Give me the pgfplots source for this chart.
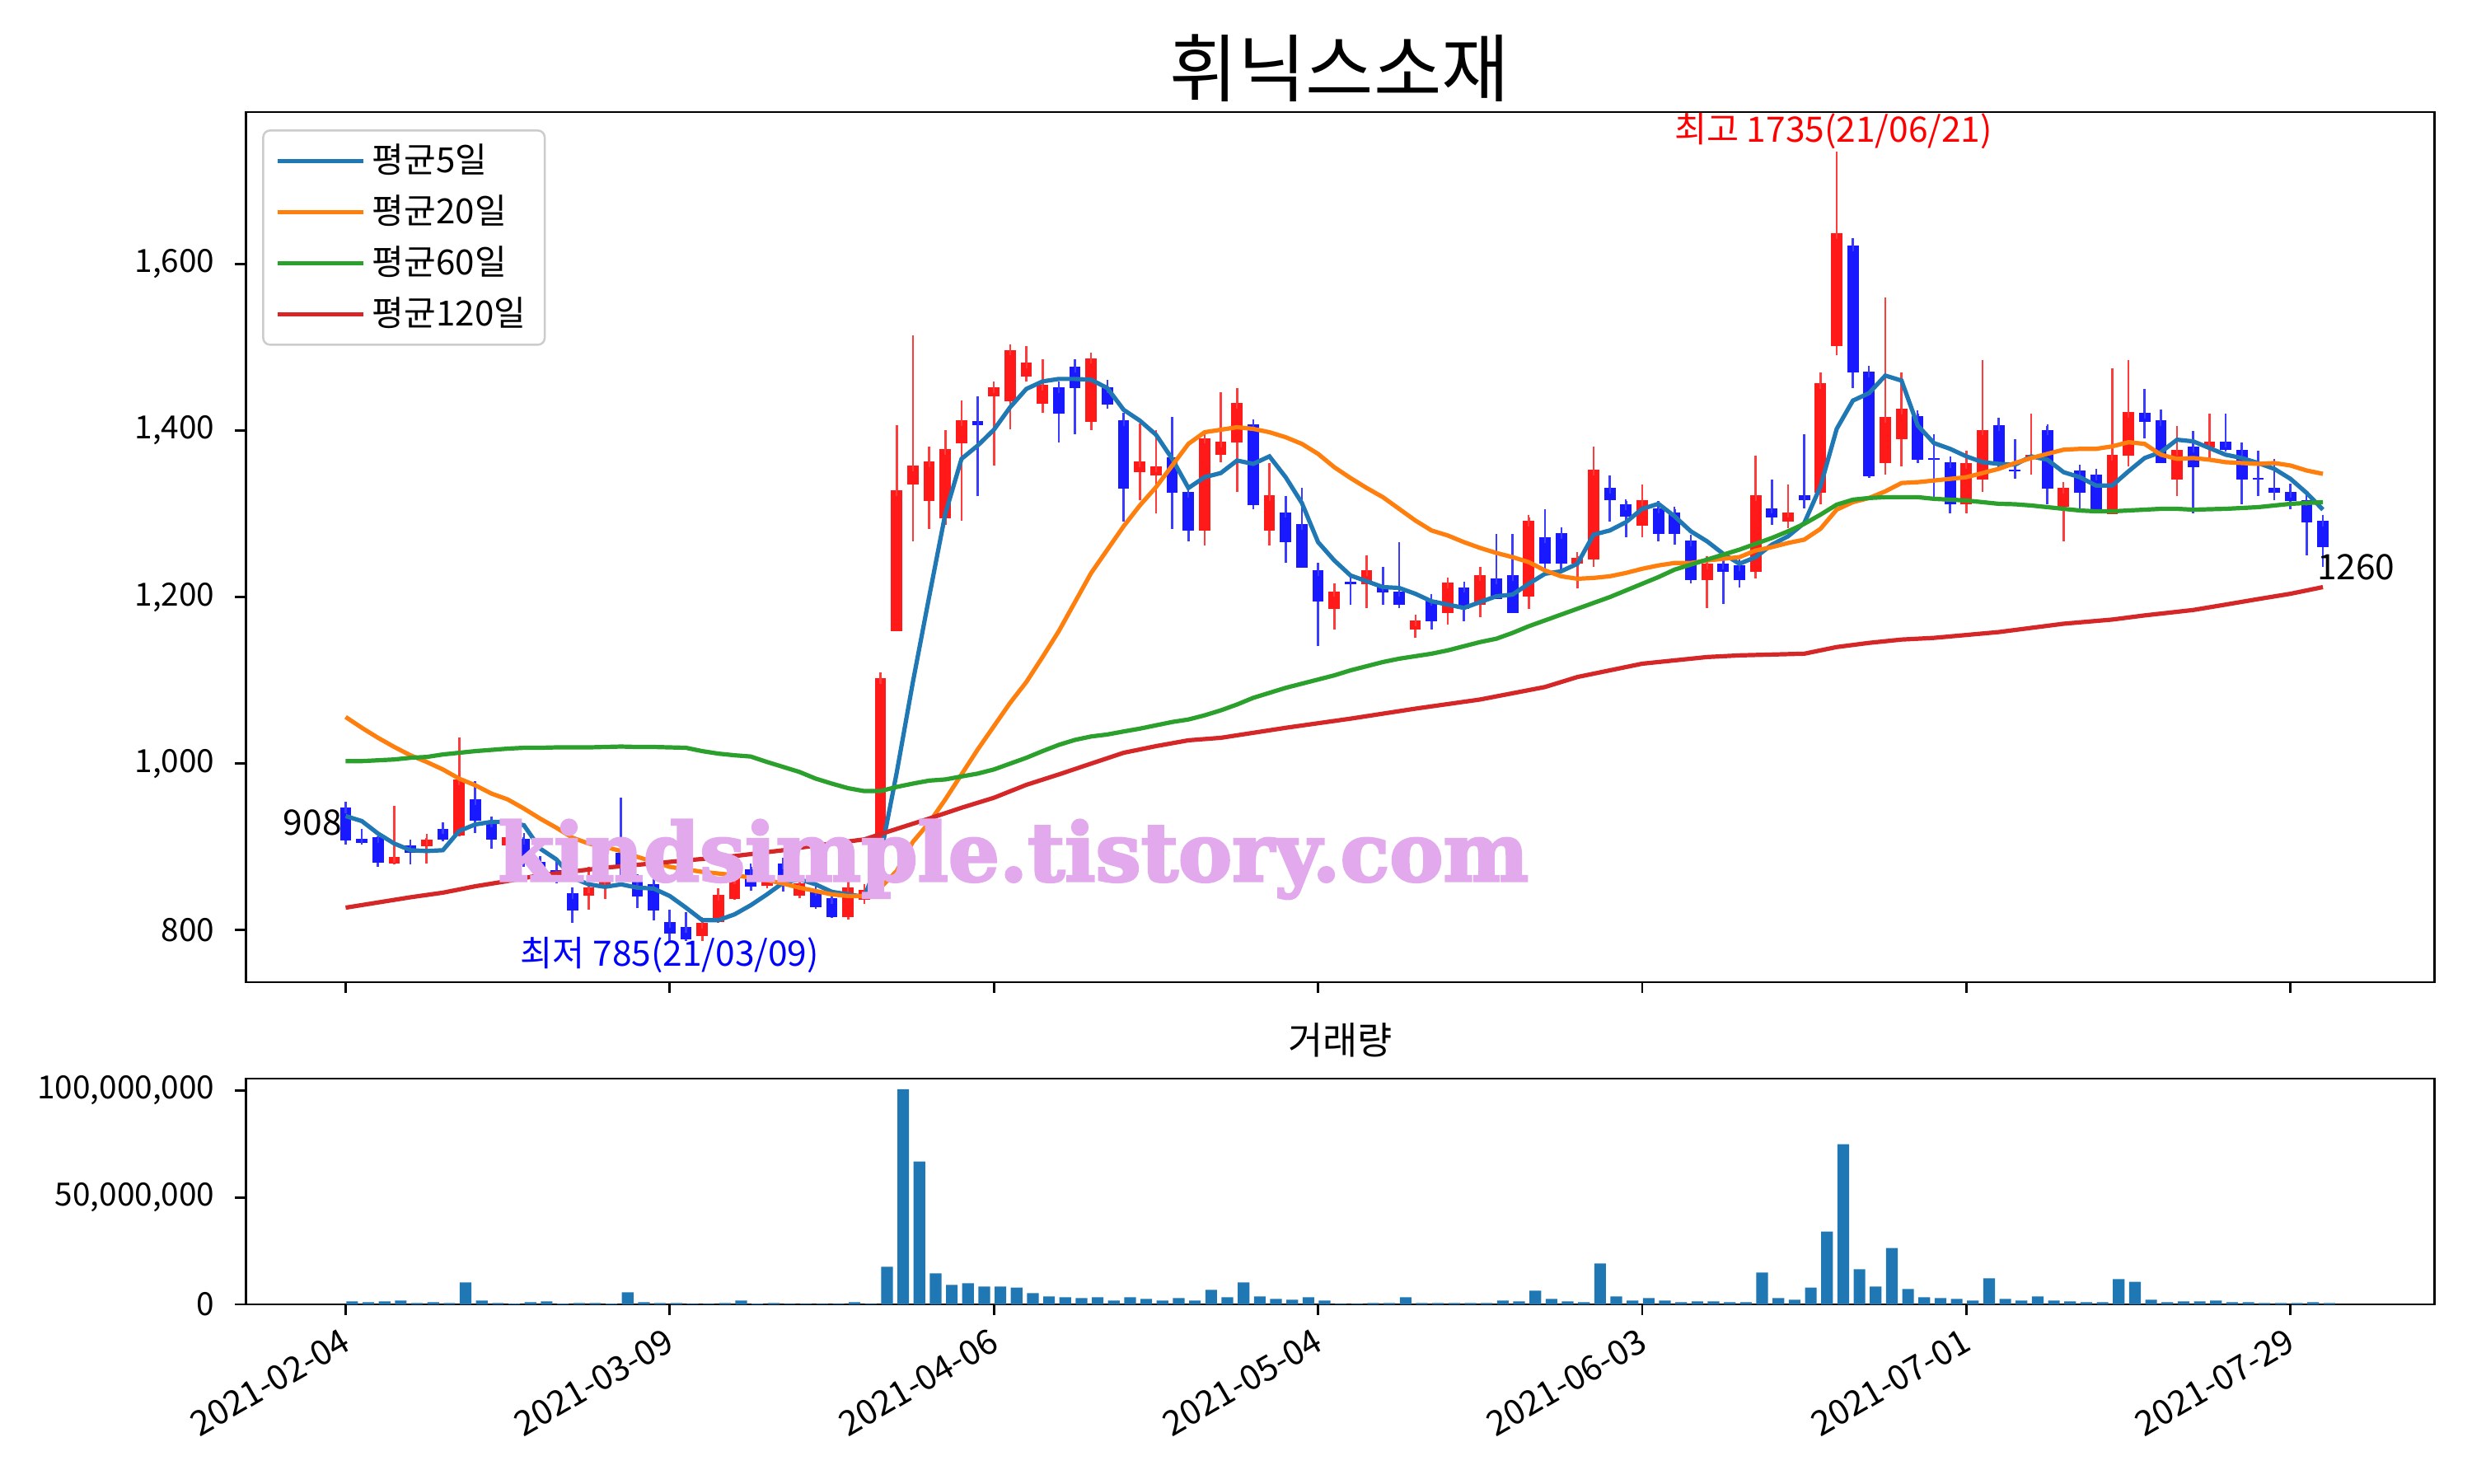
\documentclass[border=0pt]{standalone}
\usepackage{fontspec}
\setmainfont{Noto Sans CJK KR}
\newfontfamily\wmfont{DejaVu Serif Bold}[FakeBold=3]
\usepackage{pgfplots}
\usepackage{pgfplotstable}
\pgfplotsset{compat=1.18}

\definecolor{maA}{HTML}{1F77B4}
\definecolor{maB}{HTML}{FF7F0E}
\definecolor{maC}{HTML}{2CA02C}
\definecolor{maD}{HTML}{D62728}
\definecolor{candleup}{RGB}{255,25,25}
\definecolor{candledn}{RGB}{25,25,255}
\definecolor{wmark}{RGB}{226,170,236}

% rising days: index open high low close
\pgfplotstableread{
i o h l c
3 880 949 879 888
5 901 911 880 909
7 914 1031 913 981
10 902 916 898 912
15 841 876 825 851
16 852 860 837 860
22 793 812 787 809
23 810 850 809 842
24 837 862 836 862
26 853 868 850 864
28 841 860 838 856
31 816 858 813 851
32 836 853 832 848
33 906 1103 906 1103
34 1159 1406 1159 1328
35 1335 1514 1267 1358
36 1315 1381 1282 1363
37 1295 1401 1287 1378
38 1385 1436 1292 1412
40 1441 1452 1358 1452
41 1435 1497 1402 1497
42 1465 1501 1459 1482
43 1432 1486 1421 1455
46 1410 1487 1401 1487
49 1350 1408 1316 1363
50 1346 1401 1301 1357
53 1280 1391 1262 1391
54 1371 1446 1362 1387
55 1386 1451 1326 1433
57 1280 1361 1262 1322
61 1186 1216 1161 1207
63 1215 1250 1187 1232
66 1161 1172 1151 1172
68 1181 1217 1167 1217
70 1191 1236 1176 1226
73 1201 1296 1186 1292
76 1240 1249 1211 1247
77 1245 1381 1236 1353
80 1286 1335 1272 1316
84 1220 1249 1187 1240
87 1230 1370 1222 1322
89 1291 1335 1283 1302
91 1325 1470 1311 1457
92 1501 1735 1491 1637
95 1361 1560 1347 1416
96 1390 1470 1357 1426
100 1311 1376 1301 1361
101 1341 1485 1326 1401
104 1366 1420 1347 1371
106 1308 1331 1267 1331
109 1300 1475 1300 1371
110 1370 1485 1357 1422
113 1341 1405 1321 1377
115 1380 1420 1367 1387
}\uptab

% falling days
\pgfplotstableread{
i o h l c
0 947 948 903 908
1 910 922 903 905
2 912 913 876 881
4 902 903 879 893
6 922 929 907 909
8 957 979 917 931
9 930 931 898 909
11 910 912 876 880
12 882 888 866 870
13 872 883 856 860
14 844 851 809 824
17 893 959 863 876
18 860 865 827 840
19 855 860 812 824
20 810 825 785 796
21 804 822 787 789
25 873 876 847 852
27 880 883 846 865
29 848 850 826 828
30 838 840 815 816
39 1411 1441 1321 1406
44 1452 1459 1386 1420
45 1477 1486 1396 1451
47 1452 1461 1426 1431
48 1412 1421 1291 1330
51 1368 1416 1282 1325
52 1326 1326 1267 1280
56 1407 1410 1306 1310
58 1302 1321 1241 1266
59 1288 1331 1235 1235
60 1232 1241 1141 1195
62 1218 1221 1191 1215
64 1213 1236 1191 1206
65 1207 1266 1187 1191
67 1197 1197 1161 1171
69 1212 1212 1171 1186
71 1222 1276 1198 1198
72 1226 1276 1181 1181
74 1272 1306 1231 1240
75 1277 1277 1231 1240
78 1331 1346 1291 1316
79 1311 1315 1272 1297
81 1307 1315 1267 1276
82 1302 1306 1263 1276
83 1268 1271 1216 1220
85 1240 1248 1192 1230
86 1238 1240 1212 1220
88 1307 1341 1287 1296
90 1322 1396 1307 1316
93 1622 1631 1451 1470
94 1471 1471 1343 1345
97 1417 1420 1361 1365
98 1367 1396 1317 1365
99 1362 1362 1301 1311
102 1406 1415 1355 1359
103 1353 1390 1342 1351
105 1401 1405 1311 1330
107 1352 1352 1307 1325
108 1347 1347 1306 1306
111 1421 1450 1391 1410
112 1412 1425 1361 1361
114 1381 1400 1301 1356
116 1387 1420 1375 1377
117 1377 1386 1311 1341
118 1343 1376 1321 1341
119 1331 1366 1316 1325
120 1326 1336 1306 1315
121 1316 1316 1250 1290
122 1292 1295 1236 1260
}\dntab

% volume in millions of shares
\pgfplotstableread{
i v
0 1.4
1 1.0
2 1.4
3 1.8
4 0.6
5 1.0
6 0.6
7 10.3
8 1.8
9 0.6
10 0.3
11 1.0
12 1.4
13 0.3
14 0.6
15 0.6
16 0.3
17 5.6
18 1.0
19 0.6
20 0.6
21 0.2
22 0.2
23 0.6
24 1.8
25 0.3
26 0.6
27 0.2
28 0.2
29 0.2
30 0.2
31 1.0
32 0.2
33 17.6
34 100.6
35 66.8
36 14.5
37 9.1
38 9.9
39 8.3
40 8.3
41 7.9
42 5.3
43 3.7
44 3.3
45 2.9
46 3.3
47 1.8
48 3.3
49 2.6
50 1.8
51 2.9
52 1.8
53 6.8
54 3.3
55 10.3
56 3.7
57 2.6
58 2.2
59 3.3
60 1.8
61 0.2
62 0.2
63 0.6
64 0.6
65 3.3
66 0.6
67 0.6
68 0.6
69 0.6
70 0.6
71 1.8
72 1.4
73 6.4
74 2.6
75 1.4
76 1.0
77 19.1
78 3.7
79 1.8
80 2.9
81 1.8
82 1.0
83 1.4
84 1.4
85 1.0
86 1.0
87 14.9
88 2.9
89 2.2
90 7.9
91 34.1
92 74.9
93 16.4
94 8.3
95 26.4
96 7.2
97 3.3
98 2.9
99 2.6
100 1.8
101 12.2
102 2.6
103 1.8
104 3.7
105 1.8
106 1.4
107 1.0
108 1.0
109 11.8
110 10.6
111 2.2
112 1.0
113 1.4
114 1.4
115 1.8
116 1.0
117 1.0
118 0.6
119 0.6
120 0.6
121 1.0
122 0.6
}\voltab

\pgfplotsset{
  chartbase/.style={
    scale only axis, width=637.5pt,
    xmin=-6.15, xmax=128.9,
    axis line style={line width=0.65pt},
    tick align=outside, major tick length=3.2pt,
    every tick/.style={black, line width=0.65pt},
    xtick pos=bottom, ytick pos=left,
    tick label style={font=\fontsize{10}{12}\selectfont},
    yticklabel style={font=\fontsize{9.3}{11}\selectfont, xshift=-2.4pt},
    xtick={0,20,40,60,80,100,120},
  },
  nomark/.style={forget plot, only marks, mark=*, mark size=0pt,
    mark options={draw=none, fill=none}},
}

\begin{document}
\begin{tikzpicture}
\path[use as bounding box] (0,0) rectangle (720pt,432pt);

\begin{axis}[chartbase,
  at={(71.64pt,145.92pt)}, anchor=south west, height=253.44pt,
  ymin=737.5, ymax=1782.5, clip=false,
  ytick={800,1000,1200,1400,1600},
  yticklabels={800,{1,000},{1,200},{1,400},{1,600}},
  xticklabels={},
  legend style={at={(0.0074,0.980)}, anchor=north west,
    draw=black!20, line width=0.6pt, rounded corners=2pt,
    fill=white, font=\fontsize{10.1}{12}\selectfont,
    inner xsep=3.5pt, inner ysep=2pt, row sep=1pt,
    /tikz/every even column/.append style={column sep=4.5pt}},
  legend cell align=left,
  legend image code/.code={\draw[#1, line width=1.3pt] (0pt,0pt) -- (25pt,0pt);},
]
% wicks
\addplot[nomark,
  error bars/.cd, y dir=plus, y explicit, error mark=none,
  error bar style={line width=0.65pt, draw=candleup!85!white}]
  table[x=i, y=l, y error expr=\thisrow{h}-\thisrow{l}] {\uptab};
\addplot[nomark,
  error bars/.cd, y dir=plus, y explicit, error mark=none,
  error bar style={line width=0.65pt, draw=candledn!85!white}]
  table[x=i, y=l, y error expr=\thisrow{h}-\thisrow{l}] {\dntab};
% bodies
\addplot[nomark,
  error bars/.cd, y dir=plus, y explicit, error mark=-,
  error bar style={line width=3.3pt, draw=candleup},
  error mark options={draw=candleup!85!white, line width=0.5pt, mark size=1.65pt}]
  table[x=i, y=o, y error expr=\thisrow{c}-\thisrow{o}] {\uptab};
\addplot[nomark,
  error bars/.cd, y dir=plus, y explicit, error mark=-,
  error bar style={line width=3.3pt, draw=candledn},
  error mark options={draw=candledn!85!white, line width=0.5pt, mark size=1.65pt}]
  table[x=i, y=c, y error expr=\thisrow{o}-\thisrow{c}] {\dntab};

% moving averages
\addplot[maA, line width=1.25pt] coordinates {
(0,937) (1,931) (2,916) (3,904) (4,896) (5,895) (6,896) (7,919) (8,927) (9,930)
(10,930) (11,926) (12,898) (13,885) (14,863) (15,855) (16,852) (17,855) (18,851) (19,850)
(20,841) (21,827) (22,812) (23,812) (24,819) (25,830) (26,843) (27,857) (28,861) (29,855)
(30,846) (31,843) (32,840) (33,889) (34,989) (35,1098) (36,1200) (37,1300) (38,1366) (39,1382)
(40,1401) (41,1428) (42,1450) (43,1459) (44,1462) (45,1462) (46,1461) (47,1451) (48,1425) (49,1412)
(50,1395) (51,1366) (52,1331) (53,1344) (54,1349) (55,1364) (56,1360) (57,1369) (58,1344) (59,1313)
(60,1266) (61,1244) (62,1226) (63,1219) (64,1212) (65,1211) (66,1204) (67,1195) (68,1191) (69,1187)
(70,1194) (71,1201) (72,1203) (73,1216) (74,1228) (75,1231) (76,1240) (77,1275) (78,1280) (79,1290)
(80,1306) (81,1312) (82,1297) (83,1279) (84,1267) (85,1252) (86,1240) (87,1248) (88,1263) (89,1273)
(90,1289) (91,1333) (92,1402) (93,1436) (94,1445) (95,1466) (96,1460) (97,1406) (98,1385) (99,1378)
(100,1369) (101,1362) (102,1360) (103,1359) (104,1369) (105,1365) (106,1350) (107,1344) (108,1334) (109,1334)
(110,1351) (111,1367) (112,1374) (113,1389) (114,1387) (115,1379) (116,1371) (117,1367) (118,1361) (119,1354)
(120,1342) (121,1325) (122,1305)
};
\addlegendentry{평균5일}
\addplot[maB, line width=1.25pt] coordinates {
(0,1056) (1,1043) (2,1031) (3,1020) (4,1010) (5,1002) (6,993) (7,982) (8,974) (9,964)
(10,957) (11,946) (12,934) (13,923) (14,911) (15,904) (16,900) (17,895) (18,888) (19,882)
(20,876) (21,873) (22,870) (23,868) (24,866) (25,863) (26,860) (27,856) (28,851) (29,847)
(30,843) (31,841) (32,841) (33,851) (34,871) (35,906) (36,929) (37,957) (38,987) (39,1017)
(40,1045) (41,1073) (42,1098) (43,1128) (44,1159) (45,1194) (46,1229) (47,1257) (48,1285) (49,1310)
(50,1332) (51,1358) (52,1384) (53,1398) (54,1401) (55,1404) (56,1402) (57,1398) (58,1392) (59,1384)
(60,1372) (61,1356) (62,1343) (63,1331) (64,1320) (65,1306) (66,1292) (67,1280) (68,1274) (69,1266)
(70,1259) (71,1253) (72,1248) (73,1242) (74,1232) (75,1225) (76,1222) (77,1223) (78,1225) (79,1229)
(80,1234) (81,1238) (82,1241) (83,1241) (84,1244) (85,1246) (86,1248) (87,1256) (88,1260) (89,1265)
(90,1269) (91,1282) (92,1305) (93,1314) (94,1319) (95,1327) (96,1337) (97,1338) (98,1340) (99,1342)
(100,1344) (101,1349) (102,1354) (103,1361) (104,1367) (105,1372) (106,1377) (107,1378) (108,1378) (109,1381)
(110,1386) (111,1384) (112,1371) (113,1366) (114,1367) (115,1365) (116,1362) (117,1361) (118,1360) (119,1361)
(120,1358) (121,1352) (122,1348)
};
\addlegendentry{평균20일}
\addplot[maC, line width=1.25pt] coordinates {
(0,1003) (1,1003) (2,1004) (3,1005) (4,1007) (5,1008) (6,1011) (7,1013) (8,1015) (9,1016.5)
(10,1018) (11,1019) (12,1019) (13,1019.5) (14,1019.5) (15,1019.5) (16,1020) (17,1020.5) (18,1020) (19,1020)
(20,1019.5) (21,1019) (22,1015) (23,1012) (24,1010) (25,1008.5) (26,1002) (27,996) (28,990) (29,982)
(30,976) (31,970.5) (32,967) (33,967) (34,972) (35,976) (36,979.6) (37,981) (38,984.6) (39,988)
(40,993) (41,1000) (42,1007) (43,1015) (44,1022.5) (45,1028.5) (46,1032.6) (47,1035) (48,1038.6) (49,1042)
(50,1046) (51,1050) (52,1053) (53,1058) (54,1064) (55,1071) (56,1079) (57,1085) (58,1091) (59,1096)
(60,1101) (61,1106) (62,1112) (63,1117) (64,1122) (65,1126) (66,1129) (67,1132) (68,1136) (69,1141)
(70,1146) (71,1150) (72,1157) (73,1165) (74,1172) (75,1179) (76,1186) (77,1193) (78,1200) (79,1208)
(80,1216) (81,1224) (82,1233) (83,1239) (84,1245) (85,1251) (86,1257) (87,1264) (88,1271) (89,1279)
(90,1288) (91,1299) (92,1311) (93,1317) (94,1319) (95,1320) (96,1320) (97,1320) (98,1318) (99,1317)
(100,1316) (101,1314) (102,1312) (103,1311.5) (104,1310) (105,1308) (106,1306) (107,1304) (108,1303) (109,1303)
(110,1304) (111,1305) (112,1306) (113,1306) (114,1305) (115,1305.5) (116,1306) (117,1307) (118,1308) (119,1310)
(120,1312) (121,1313) (122,1314)
};
\addlegendentry{평균60일}
\addplot[maD, line width=1.25pt] coordinates {
(0,827) (4,839.5) (6,845) (8,852.7) (10,859) (12,866) (16,875) (20,882) (24,889) (27,896)
(28,899) (32,909) (34,921.6) (36,934) (38,947) (40,959) (42,974.5) (44,987) (46,1000) (48,1013)
(50,1021) (52,1028) (54,1031) (58,1043) (62,1054) (66,1066) (70,1077) (74,1092) (76,1104) (78,1112)
(80,1120) (82,1124) (84,1128) (86,1130) (88,1131) (90,1132) (92,1140) (94,1145) (96,1149) (98,1151)
(102,1158) (106,1168) (109,1173) (111,1178) (114,1184.5) (116,1191) (118,1197.6) (120,1204) (122,1212)
};
\addlegendentry{평균120일}

% annotations
\node[anchor=base east, inner sep=0pt, font=\fontsize{10.2}{12}\selectfont] at (axis cs:-0.2,914) {908};
\node[anchor=north west, inner sep=0pt, font=\fontsize{10.2}{12}\selectfont] at (axis cs:121.6,1252) {1260};
\node[anchor=south, inner sep=0pt, text=red, font=\fontsize{10.2}{12}\selectfont] at (axis cs:91.8,1737) {최고 1735(21/06/21)};
\node[anchor=north, inner sep=0pt, text=blue, font=\fontsize{10.2}{12}\selectfont] at (axis cs:20,792) {최저 785(21/03/09)};
% watermark
\node[anchor=base, inner sep=0pt, text=wmark, font=\wmfont\fontsize{23.5}{26}\selectfont] at (axis cs:41.2,859) {kindsimple.tistory.com};
\end{axis}

\begin{axis}[chartbase,
  at={(71.64pt,52.08pt)}, anchor=south west, height=65.76pt,
  ymin=0, ymax=105.6,
  ytick={0,50,100},
  yticklabels={0,{50,000,000},{100,000,000}},
  xticklabels={2021-02-04,2021-03-09,2021-04-06,2021-05-04,2021-06-03,2021-07-01,2021-07-29},
  xticklabel style={rotate=30, anchor=north east, inner sep=0pt, xshift=-3pt, yshift=-2pt},
  title={거래량}, title style={font=\fontsize{11}{13}\selectfont, yshift=-3.3pt},
]
\addplot[ybar, bar width=0.72, bar shift=1.9pt, fill=maA, draw=none] table[x=i, y=v] {\voltab};
\end{axis}

% chart title
\node[anchor=base, font=\fontsize{21.5}{25}\selectfont] at (390.2pt,404pt) {휘닉스소재};
\end{tikzpicture}
\end{document}
